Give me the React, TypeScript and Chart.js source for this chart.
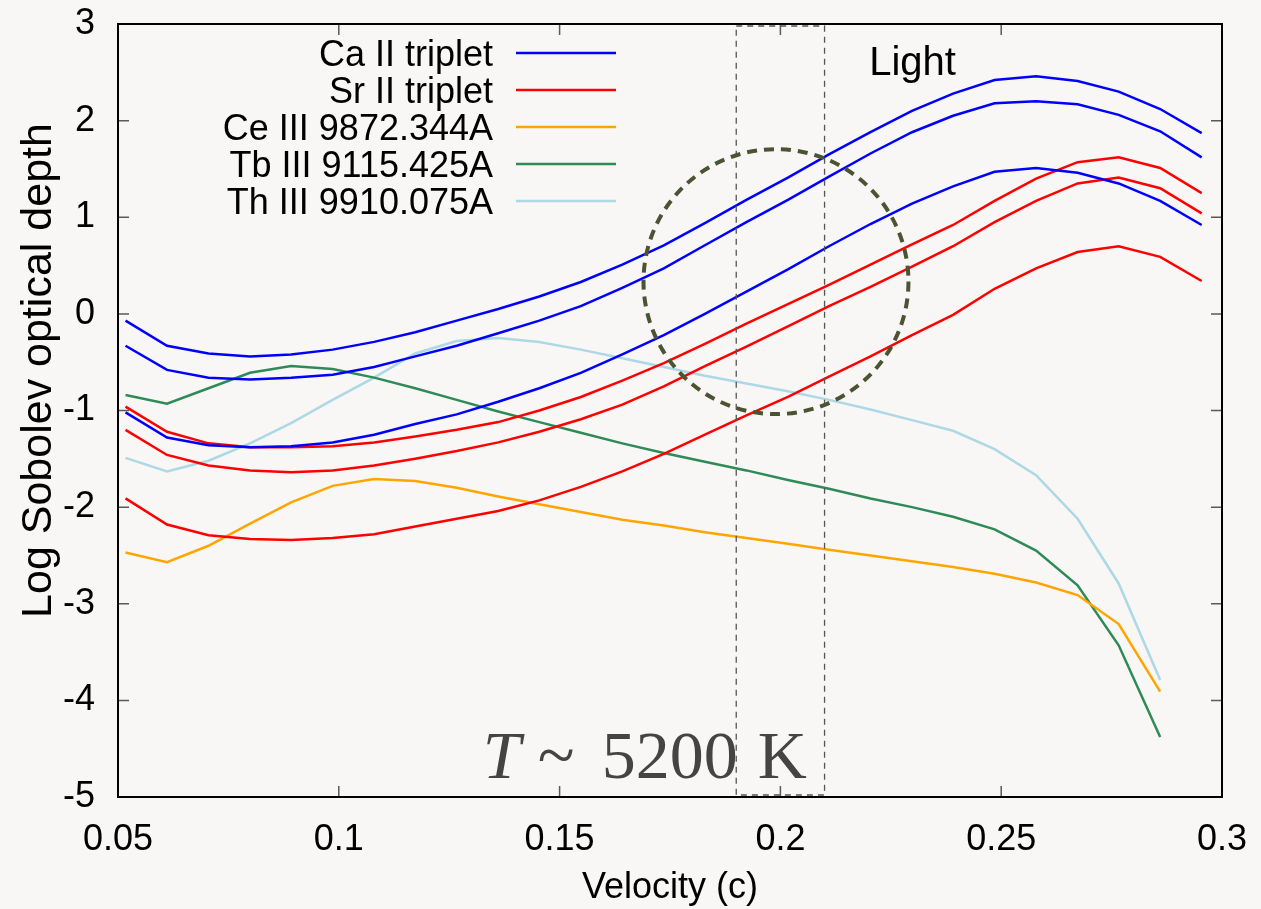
import React, { useEffect, useRef } from 'react';
import { Chart, registerables } from 'chart.js';

Chart.register(...registerables);

// ---------------- data ----------------
const VELOCITY = [
  0.0517, 0.0611, 0.0705, 0.0799, 0.0892, 0.0986, 0.108, 0.1173, 0.1267, 0.1361, 0.1454, 0.1548, 0.1642, 0.1736,
  0.1829, 0.1923, 0.2017, 0.211, 0.2204, 0.2298, 0.2391, 0.2485, 0.2579, 0.2673, 0.2766, 0.286, 0.2954,
];

const CA_II_A = [
  -0.07, -0.33, -0.41, -0.44, -0.42, -0.37, -0.29, -0.19, -0.07, 0.05, 0.18, 0.33, 0.51, 0.71, 0.94, 1.18, 1.41,
  1.65, 1.88, 2.1, 2.28, 2.42, 2.46, 2.41, 2.3, 2.12, 1.87,
];
const CA_II_B = [
  -0.33, -0.58, -0.66, -0.68, -0.66, -0.63, -0.55, -0.44, -0.33, -0.2, -0.07, 0.08, 0.27, 0.47, 0.71, 0.95, 1.18,
  1.42, 1.66, 1.88, 2.05, 2.18, 2.2, 2.17, 2.06, 1.89, 1.62,
];
const CA_II_C = [
  -1.02, -1.28, -1.36, -1.38, -1.37, -1.33, -1.25, -1.14, -1.04, -0.91, -0.77, -0.61, -0.42, -0.22, 0.0, 0.23, 0.46,
  0.7, 0.93, 1.14, 1.32, 1.47, 1.51, 1.46, 1.35, 1.17, 0.92,
];
const SR_II_A = [
  -0.96, -1.22, -1.34, -1.38, -1.38, -1.37, -1.33, -1.27, -1.2, -1.12, -1.0, -0.86, -0.69, -0.51, -0.31, -0.1, 0.1,
  0.3, 0.51, 0.72, 0.92, 1.17, 1.4, 1.57, 1.62, 1.51, 1.25,
];
const SR_II_B = [
  -1.2, -1.46, -1.57, -1.62, -1.64, -1.62, -1.57, -1.5, -1.42, -1.33, -1.22, -1.09, -0.94, -0.75, -0.54, -0.34, -0.13,
  0.08, 0.28, 0.49, 0.7, 0.95, 1.17, 1.35, 1.41, 1.3, 1.04,
];
const SR_II_C = [
  -1.91, -2.18, -2.29, -2.33, -2.34, -2.32, -2.28, -2.2, -2.12, -2.04, -1.93, -1.79, -1.63, -1.45, -1.25, -1.05, -0.86,
  -0.65, -0.44, -0.22, -0.01, 0.26, 0.47, 0.64, 0.7, 0.59, 0.34,
];
const CE_III = [
  -2.47, -2.57, -2.4, -2.17, -1.95, -1.78, -1.71, -1.73, -1.8, -1.89, -1.97, -2.05, -2.13, -2.19, -2.26, -2.32, -2.38,
  -2.44, -2.5, -2.56, -2.62, -2.69, -2.78, -2.91, -3.21, -3.91,
];
const TB_III = [
  -0.84, -0.93, -0.77, -0.61, -0.54, -0.57, -0.66, -0.77, -0.89, -1.01, -1.12, -1.23, -1.34, -1.44, -1.53, -1.62,
  -1.72, -1.81, -1.91, -2.0, -2.1, -2.23, -2.45, -2.81, -3.43, -4.38,
];
const TH_III = [
  -1.49, -1.63, -1.52, -1.34, -1.13, -0.89, -0.66, -0.41, -0.28, -0.25, -0.29, -0.37, -0.46, -0.55, -0.64, -0.72,
  -0.8, -0.89, -0.99, -1.1, -1.21, -1.4, -1.67, -2.12, -2.79, -3.79,
];

const LEGEND_LABELS = ['Ca II triplet', 'Sr II triplet', 'Ce III 9872.344A', 'Tb III 9115.425A', 'Th III 9910.075A'];
const LEGEND_COLORS = ['#0000ff', '#ff0000', '#ffa500', '#2e8b57', '#add8e6'];

const X_TICKS = [0.05, 0.1, 0.15, 0.2, 0.25, 0.3];
const X_TICK_LABELS = ['0.05', '0.1', '0.15', '0.2', '0.25', '0.3'];
const Y_TICKS = [-5, -4, -3, -2, -1, 0, 1, 2, 3];
const Y_TICK_LABELS = ['-5', '-4', '-3', '-2', '-1', '0', '1', '2', '3'];

const X_TITLE = 'Velocity (c)';
const Y_TITLE = 'Log Sobolev optical depth';

// ---------------- styling ----------------
const BG = '#f8f7f5';
const SANS = '"Liberation Sans", Arial, Helvetica, sans-serif';
const SERIF = '"Liberation Serif", "Times New Roman", serif';

const toPoints = (ys: number[]) => ys.map((y, i) => ({ x: VELOCITY[i], y }));

const SERIES = [
  { data: CA_II_A, color: LEGEND_COLORS[0] },
  { data: CA_II_B, color: LEGEND_COLORS[0] },
  { data: CA_II_C, color: LEGEND_COLORS[0] },
  { data: SR_II_A, color: LEGEND_COLORS[1] },
  { data: SR_II_B, color: LEGEND_COLORS[1] },
  { data: SR_II_C, color: LEGEND_COLORS[1] },
  { data: CE_III, color: LEGEND_COLORS[2] },
  { data: TB_III, color: LEGEND_COLORS[3] },
  { data: TH_III, color: LEGEND_COLORS[4] },
];

const decorPlugin = {
  id: 'decor',
  beforeDraw(chart: any) {
    const { ctx, width, height } = chart;
    ctx.save();
    ctx.fillStyle = BG;
    ctx.fillRect(0, 0, width, height);
    ctx.restore();
  },
  afterDatasetsDraw(chart: any) {
    const { ctx, chartArea } = chart;
    const xs = chart.scales.x;
    const ys = chart.scales.y;
    const { left, right, top, bottom } = chartArea;
    ctx.save();

    // dashed band 0.19 - 0.21
    ctx.strokeStyle = '#555';
    ctx.lineWidth = 1.3;
    ctx.setLineDash([6, 5]);
    const bx0 = xs.getPixelForValue(0.19);
    const bx1 = xs.getPixelForValue(0.21);
    ctx.strokeRect(bx0, top + 2, bx1 - bx0, bottom - top - 4);

    // dashed circle
    const cx = xs.getPixelForValue(0.199);
    const cy = ys.getPixelForValue(0.334);
    const r = xs.getPixelForValue(0.229) - cx;
    ctx.strokeStyle = '#4a5433';
    ctx.lineWidth = 4;
    ctx.setLineDash([10, 7]);
    ctx.beginPath();
    ctx.arc(cx, cy, r, 0, Math.PI * 2);
    ctx.stroke();
    ctx.setLineDash([]);

    // inward ticks on all four sides
    ctx.strokeStyle = '#5a5a5a';
    ctx.lineWidth = 1.5;
    const TL = 11;
    ctx.beginPath();
    X_TICKS.forEach((v) => {
      const px = xs.getPixelForValue(v);
      ctx.moveTo(px, bottom);
      ctx.lineTo(px, bottom - TL);
      ctx.moveTo(px, top);
      ctx.lineTo(px, top + TL);
    });
    Y_TICKS.forEach((v) => {
      const py = ys.getPixelForValue(v);
      ctx.moveTo(left, py);
      ctx.lineTo(left + TL, py);
      ctx.moveTo(right, py);
      ctx.lineTo(right - TL, py);
    });
    ctx.stroke();

    // frame
    ctx.strokeStyle = '#000';
    ctx.lineWidth = 2;
    ctx.strokeRect(left, top, right - left, bottom - top);

    // legend
    ctx.font = `36px ${SANS}`;
    ctx.textAlign = 'right';
    ctx.textBaseline = 'alphabetic';
    LEGEND_LABELS.forEach((lab, i) => {
      const ly = top + 29 + i * 37;
      ctx.fillStyle = '#000';
      ctx.fillText(lab, left + 375, ly + 13);
      ctx.strokeStyle = LEGEND_COLORS[i];
      ctx.lineWidth = 2.5;
      ctx.beginPath();
      ctx.moveTo(left + 398, ly);
      ctx.lineTo(left + 498, ly);
      ctx.stroke();
    });

    // "Light"
    ctx.textAlign = 'left';
    ctx.font = `40px ${SANS}`;
    ctx.fillStyle = '#000';
    ctx.fillText('Light', xs.getPixelForValue(0.2201), ys.getPixelForValue(2.47));

    // T ~ 5200 K
    const tx = xs.getPixelForValue(0.1326);
    const tyb = ys.getPixelForValue(-4.805);
    ctx.fillStyle = '#444';
    ctx.font = `italic 68px ${SERIF}`;
    ctx.fillText('T', tx, tyb);
    ctx.font = `68px ${SERIF}`;
    ctx.fillText('~', tx + 55, tyb);
    ctx.fillText('5200', tx + 119, tyb);
    ctx.fillText('K', tx + 275, tyb);

    // axis titles
    ctx.fillStyle = '#000';
    ctx.textAlign = 'center';
    ctx.textBaseline = 'middle';
    ctx.font = `36px ${SANS}`;
    ctx.fillText(X_TITLE, (left + right) / 2, bottom + 91);
    ctx.save();
    ctx.translate(39, (top + bottom) / 2 - 40);
    ctx.rotate(-Math.PI / 2);
    ctx.font = `43px ${SANS}`;
    ctx.fillText(Y_TITLE, 0, 0);
    ctx.restore();

    ctx.restore();
  },
};

export default function App() {
  const ref = useRef<HTMLCanvasElement>(null);
  useEffect(() => {
    document.body.style.margin = '0';
    document.body.style.background = BG;
    const canvas = ref.current;
    if (!canvas) return;
    const chart = new Chart(canvas, {
      type: 'line',
      data: {
        datasets: SERIES.map((s) => ({
          data: toPoints(s.data),
          borderColor: s.color,
          backgroundColor: s.color,
          borderWidth: 2.5,
          pointRadius: 0,
          tension: 0,
          fill: false,
        })),
      },
      options: {
        animation: false,
        responsive: false,
        devicePixelRatio: 1,
        layout: { padding: { left: 0, top: 24, right: 39, bottom: 0 } },
        plugins: { legend: { display: false }, tooltip: { enabled: false } },
        scales: {
          x: {
            type: 'linear',
            min: 0.05,
            max: 0.3,
            afterBuildTicks: (axis: any) => {
              axis.ticks = X_TICKS.map((v) => ({ value: v }));
            },
            afterFit: (scale: any) => {
              scale.height = 112;
              scale.paddingLeft = 0;
              scale.paddingRight = 0;
            },
            grid: { display: false, drawTicks: false },
            border: { display: false },
            ticks: {
              padding: 21,
              maxRotation: 0,
              autoSkip: false,
              color: '#000',
              font: { family: SANS, size: 36 },
              callback: (v: any) => {
                const i = X_TICKS.findIndex((t) => Math.abs(t - Number(v)) < 1e-9);
                return i >= 0 ? X_TICK_LABELS[i] : '';
              },
            },
          },
          y: {
            type: 'linear',
            min: -5,
            max: 3,
            afterBuildTicks: (axis: any) => {
              axis.ticks = Y_TICKS.map((v) => ({ value: v }));
            },
            afterFit: (scale: any) => {
              scale.width = 118;
              scale.paddingTop = 0;
              scale.paddingBottom = 0;
            },
            grid: { display: false, drawTicks: false },
            border: { display: false },
            ticks: {
              padding: 23,
              autoSkip: false,
              color: '#000',
              font: { family: SANS, size: 36 },
              callback: (v: any) => {
                const i = Y_TICKS.findIndex((t) => Math.abs(t - Number(v)) < 1e-9);
                return i >= 0 ? Y_TICK_LABELS[i] : '';
              },
            },
          },
        },
      },
      plugins: [decorPlugin],
    } as any);
    return () => chart.destroy();
  }, []);
  return (
    <div style={{ width: 1261, height: 909 }}>
      <canvas ref={ref} width={1261} height={909} style={{ display: 'block', width: 1261, height: 909 }} />
    </div>
  );
}
